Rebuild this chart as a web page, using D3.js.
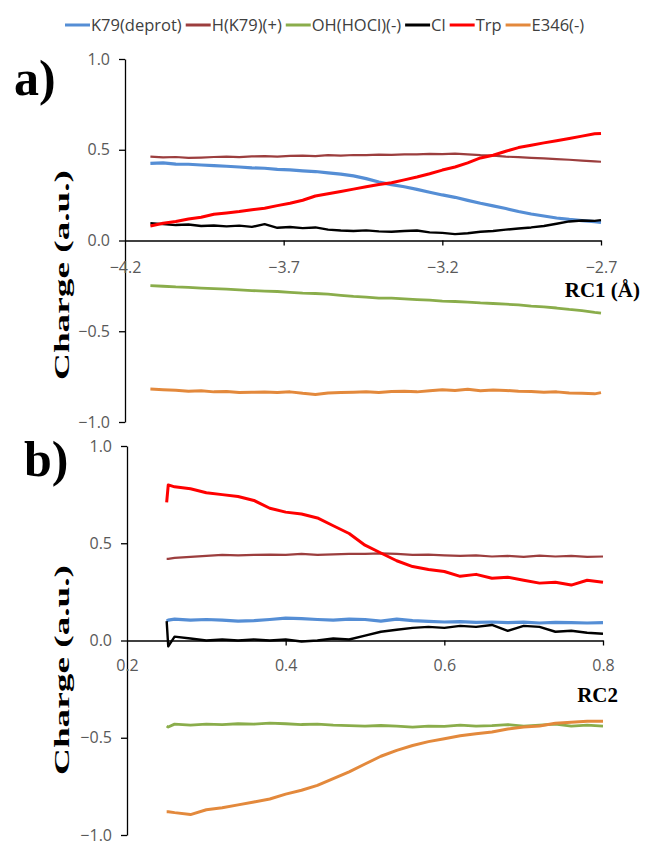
<!DOCTYPE html>
<html>
<head>
<meta charset="utf-8">
<script src="https://cdn.jsdelivr.net/npm/d3@7"></script>
<style>
  body { margin: 0; background: #fff; }
  .tick text { font-family: "Open Sans", "Liberation Sans", sans-serif; font-size: 16px; fill: #595959; }
  .lbl { font-family: "Liberation Serif", "DejaVu Serif", serif; font-weight: bold; fill: #000; }
  .leg { font-family: "Open Sans", "Liberation Sans", sans-serif; font-size: 16.5px; fill: #404040; }
</style>
</head>
<body>
<div id="chart"></div>
<script>
// ---------------- Datos ----------------
const names  = ["K79(deprot)", "H(K79)(+)", "OH(HOCl)(-)", "Cl", "Trp", "E346(-)"];
const colors = ["#558ED5", "#9C3E3E", "#8AAD4B", "#000000", "#FF0000", "#E3893C"];
const widths = [3.2, 2.2, 2.8, 2.4, 3, 3];

const yTicks  = [-1.0, -0.5, 0.0, 0.5, 1.0];
const xTicksA = [-4.2, -3.7, -3.2, -2.7];
const xTicksB = [0.2, 0.4, 0.6, 0.8];

// panel a) RC1
const xa = [-4.12,-4.08,-4.04,-4.00,-3.96,-3.92,-3.88,-3.84,-3.80,-3.76,-3.72,-3.68,-3.64,-3.60,-3.56,-3.52,-3.48,-3.44,-3.40,-3.36,-3.32,-3.28,-3.24,-3.20,-3.16,-3.12,-3.08,-3.04,-3.00,-2.96,-2.92,-2.88,-2.84,-2.80,-2.76,-2.72,-2.70];
const a_K79  = [.425,.428,.421,.420,.416,.412,.409,.405,.400,.398,.392,.389,.384,.380,.373,.366,.356,.341,.322,.308,.296,.282,.266,.251,.238,.221,.205,.191,.176,.160,.146,.135,.124,.116,.110,.104,.100];
const a_HK79 = [.462,.458,.460,.455,.457,.460,.462,.459,.463,.465,.462,.466,.468,.465,.470,.468,.471,.470,.473,.472,.475,.474,.477,.476,.479,.474,.470,.468,.462,.459,.455,.452,.448,.445,.440,.436,.434];
const a_OH   = [-.249,-.252,-.256,-.258,-.262,-.265,-.268,-.272,-.276,-.279,-.281,-.286,-.290,-.292,-.296,-.302,-.308,-.312,-.318,-.318,-.322,-.326,-.329,-.334,-.336,-.339,-.344,-.347,-.351,-.355,-.362,-.366,-.372,-.380,-.386,-.396,-.400];
const a_Cl   = [.095,.090,.085,.088,.080,.083,.078,.082,.075,.090,.070,.074,.068,.072,.060,.055,.052,.056,.050,.048,.052,.055,.045,.042,.035,.040,.048,.052,.060,.066,.072,.080,.092,.105,.110,.108,.112];
const a_Trp  = [.080,.095,.105,.118,.128,.145,.152,.160,.170,.178,.192,.205,.222,.245,.258,.270,.283,.296,.308,.318,.334,.350,.368,.388,.405,.428,.455,.470,.492,.512,.525,.538,.550,.562,.575,.588,.590];
const a_E346 = [-.818,-.822,-.825,-.830,-.828,-.834,-.832,-.838,-.836,-.835,-.838,-.834,-.842,-.848,-.840,-.838,-.836,-.834,-.838,-.832,-.830,-.834,-.828,-.822,-.826,-.820,-.828,-.824,-.826,-.830,-.832,-.836,-.834,-.840,-.842,-.845,-.838];

// panel b) RC2
const xb = [0.250,0.252,0.26,0.28,0.30,0.32,0.34,0.36,0.38,0.40,0.42,0.44,0.46,0.48,0.50,0.52,0.54,0.56,0.58,0.60,0.62,0.64,0.66,0.68,0.70,0.72,0.74,0.76,0.78,0.80];
const b_K79  = [.100,.105,.110,.105,.108,.105,.100,.102,.108,.115,.112,.108,.105,.110,.108,.100,.110,.102,.098,.095,.097,.093,.095,.092,.094,.090,.093,.092,.090,.092];
const b_HK79 = [.420,.420,.425,.430,.435,.440,.438,.440,.442,.440,.445,.440,.443,.445,.445,.448,.445,.440,.442,.438,.435,.438,.432,.435,.430,.436,.432,.435,.430,.432];
const b_OH   = [-.440,-.445,-.430,-.435,-.430,-.433,-.428,-.430,-.425,-.428,-.432,-.430,-.435,-.438,-.440,-.437,-.440,-.445,-.440,-.442,-.435,-.440,-.438,-.432,-.440,-.435,-.430,-.440,-.435,-.440];
const b_Cl   = [.100,-.030,.020,.010,.000,.005,.000,.005,.000,.005,-.005,.000,.010,.005,.025,.045,.055,.065,.070,.065,.075,.070,.080,.050,.075,.070,.045,.050,.040,.035];
const b_Trp  = [.710,.800,.790,.780,.760,.750,.740,.720,.680,.660,.650,.630,.590,.550,.490,.450,.410,.380,.365,.355,.330,.340,.320,.325,.310,.295,.300,.285,.310,.300];
const b_E346 = [-.880,-.880,-.885,-.895,-.870,-.860,-.845,-.830,-.815,-.790,-.770,-.745,-.710,-.675,-.635,-.595,-.565,-.540,-.520,-.505,-.490,-.480,-.470,-.455,-.445,-.440,-.425,-.420,-.415,-.415];

const seriesA = [a_K79, a_HK79, a_OH, a_Cl, a_Trp, a_E346];
const seriesB = [b_K79, b_HK79, b_OH, b_Cl, b_Trp, b_E346];

// ---------------- Grafico ----------------
const WIDTH = 650, HEIGHT = 846;

const svg = d3.select("#chart").append("svg")
    .attr("width", WIDTH)
    .attr("height", HEIGHT);

function drawPanel(opt){
    const x = d3.scaleLinear().domain(opt.xDomain).range([opt.left, opt.right]);
    const y = d3.scaleLinear().domain([-1, 1]).range([opt.bottom, opt.top]);

    const g = svg.append("g");

    // lineas
    opt.series.forEach((s, k) => {
        const line = d3.line()
            .x((d, i) => x(opt.xs[i]))
            .y(d => y(d));
        g.append("path")
            .datum(s)
            .attr("fill", "none")
            .attr("stroke", colors[k])
            .attr("stroke-width", widths[k])
            .attr("stroke-linejoin", "round")
            .attr("d", line);
    });

    // eje y
    const yAxis = g.append("g")
        .attr("transform", "translate(" + opt.left + ",0)")
        .call(d3.axisLeft(y).tickValues(yTicks).tickFormat(d3.format(".1f"))
            .tickSize(6).tickSizeOuter(0).tickPadding(9));
    yAxis.selectAll("path, line").attr("stroke", "#000").attr("stroke-width", 1.3);

    // eje x en y=0
    const xAxis = g.append("g")
        .attr("transform", "translate(0," + y(0) + ")")
        .call(d3.axisBottom(x).tickValues(opt.xTicks).tickFormat(d3.format(".1f"))
            .tickSize(5).tickSizeOuter(0).tickPadding(opt.xPad));
    xAxis.selectAll("path, line").attr("stroke", "#000").attr("stroke-width", 1.3);
    xAxis.selectAll(".tick line").filter(d => d === opt.xTicks[0]).remove();

    // titulos
    g.append("text")
        .attr("class", "lbl")
        .attr("transform", "translate(69," + opt.yLabelY + ") rotate(-90)")
        .attr("text-anchor", "middle")
        .attr("font-size", 22)
        .attr("textLength", 210)
        .attr("lengthAdjust", "spacingAndGlyphs")
        .text("Charge (a.u.)");

    g.append("text")
        .attr("class", "lbl")
        .attr("x", opt.xLabelX)
        .attr("y", opt.xLabelY)
        .attr("text-anchor", "end")
        .attr("font-size", 21)
        .text(opt.xLabel);

    g.append("text")
        .attr("class", "lbl")
        .attr("x", opt.tagX)
        .attr("y", opt.tagY)
        .attr("font-size", 50)
        .text(opt.tag);
}

drawPanel({
    xs: xa, series: seriesA, xDomain: [-4.2, -2.7], xTicks: xTicksA,
    left: 125, right: 601, top: 59, bottom: 422, xPad: 16,
    yLabelY: 275, xLabel: "RC1 (Å)", xLabelX: 640, xLabelY: 297,
    tag: "a)", tagX: 14, tagY: 95
});

drawPanel({
    xs: xb, series: seriesB, xDomain: [0.2, 0.8], xTicks: xTicksB,
    left: 127, right: 603, top: 446, bottom: 835, xPad: 14,
    yLabelY: 670, xLabel: "RC2", xLabelX: 618, xLabelY: 702,
    tag: "b)", tagX: 24, tagY: 476
});

// leyenda
const leg = svg.append("g");
let lx = 65;
names.forEach((n, k) => {
    leg.append("line")
        .attr("x1", lx).attr("x2", lx + 25)
        .attr("y1", 25).attr("y2", 25)
        .attr("stroke", colors[k]).attr("stroke-width", 3);
    const t = leg.append("text")
        .attr("class", "leg")
        .attr("x", lx + 26)
        .attr("y", 31)
        .text(n);
    lx += 26 + t.node().getComputedTextLength() + 4;
});
</script>
</body>
</html>
